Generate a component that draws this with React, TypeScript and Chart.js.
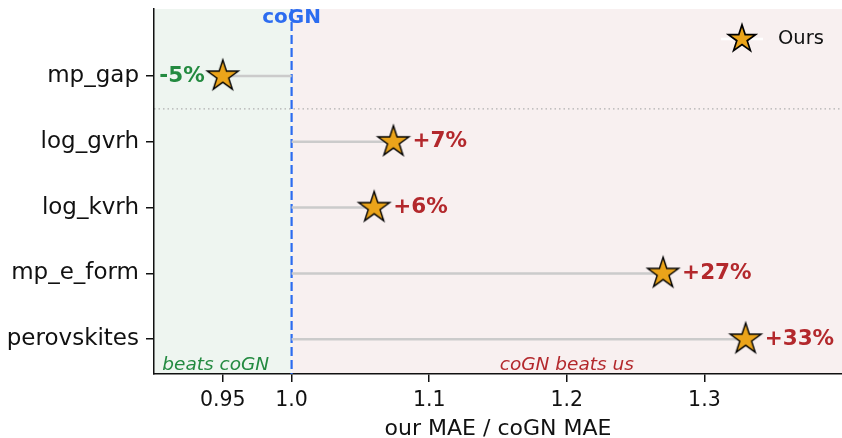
import React, { useEffect, useRef } from "react";
import { Chart, registerables } from "chart.js";
Chart.register(...registerables);

const categories = ["mp_gap", "log_gvrh", "log_kvrh", "mp_e_form", "perovskites"];
const ratios = [0.95, 1.074, 1.06, 1.27, 1.33];
const pctLabels = ["-5%", "+7%", "+6%", "+27%", "+33%"];
const xTicks = [0.95, 1.0, 1.1, 1.2, 1.3];
const xTickLabels = ["0.95", "1.0", "1.1", "1.2", "1.3"];
const baseline = 1.0;
const legendLabel = "Ours";
const xTitle = "our MAE / coGN MAE";
const refLabel = "coGN";
const winLabel = "beats coGN";
const loseLabel = "coGN beats us";

const FONT = "DejaVu Sans";
const STAR_FILL = "#EBA41A";
const GREEN = "#238a40";
const RED = "#b3282c";
const BLUE = "#2c6cf0";

function makeStar(R: number, lw: number): HTMLCanvasElement {
  const size = Math.ceil(2 * R + 2 * lw + 4);
  const c = document.createElement("canvas");
  c.width = size;
  c.height = size;
  const ctx = c.getContext("2d")!;
  const cx = size / 2;
  const cy = size / 2;
  ctx.beginPath();
  for (let k = 0; k < 10; k++) {
    const a = -Math.PI / 2 + (k * Math.PI) / 5;
    const r = k % 2 === 0 ? R : R * 0.382;
    const px = cx + r * Math.cos(a);
    const py = cy + r * Math.sin(a);
    if (k === 0) ctx.moveTo(px, py);
    else ctx.lineTo(px, py);
  }
  ctx.closePath();
  ctx.fillStyle = STAR_FILL;
  ctx.fill();
  ctx.lineWidth = lw;
  ctx.lineJoin = "miter";
  ctx.strokeStyle = "#000";
  ctx.stroke();
  return c;
}

function zeroPad(axis: any) {
  axis.paddingTop = 0;
  axis.paddingBottom = 0;
  axis.paddingLeft = 0;
  axis.paddingRight = 0;
}

export default function App() {
  const ref = useRef<HTMLCanvasElement>(null);

  useEffect(() => {
    document.body.style.margin = "0";
    const canvas = ref.current!;
    const star = makeStar(16.3, 1.4);
    const legendStar = makeStar(14.3, 1.7);

    const decor = {
      id: "decor",
      beforeDraw(chart: any) {
        const { ctx, chartArea: ca, scales } = chart;
        const xs = scales.x;
        const ys = scales.y;
        const xb = xs.getPixelForValue(baseline);
        ctx.save();
        ctx.fillStyle = "#eef5f0";
        ctx.fillRect(ca.left, ca.top, xb - ca.left, ca.bottom - ca.top);
        ctx.fillStyle = "#f8f0f0";
        ctx.fillRect(xb, ca.top, ca.right - xb, ca.bottom - ca.top);
        const ySep = ys.getPixelForValue(0.5);
        ctx.strokeStyle = "#b0b0b0";
        ctx.lineWidth = 1.2;
        ctx.setLineDash([1.5, 3]);
        ctx.beginPath();
        ctx.moveTo(ca.left, ySep);
        ctx.lineTo(ca.right, ySep);
        ctx.stroke();
        ctx.restore();
      },
      beforeDatasetsDraw(chart: any) {
        const { ctx, chartArea: ca, scales } = chart;
        const xb = scales.x.getPixelForValue(baseline);
        ctx.save();
        ctx.strokeStyle = BLUE;
        ctx.lineWidth = 2.2;
        ctx.setLineDash([9, 4]);
        ctx.beginPath();
        ctx.moveTo(xb, ca.top);
        ctx.lineTo(xb, ca.bottom);
        ctx.stroke();
        ctx.restore();
      },
      afterDraw(chart: any) {
        const { ctx, chartArea: ca, scales } = chart;
        const xs = scales.x;
        const ys = scales.y;
        ctx.save();
        ctx.font = `bold 21.5px "${FONT}"`;
        ctx.textBaseline = "middle";
        ratios.forEach((v, i) => {
          const px = xs.getPixelForValue(v);
          const py = ys.getPixelForValue(i);
          if (v < baseline) {
            ctx.fillStyle = GREEN;
            ctx.textAlign = "right";
            ctx.fillText(pctLabels[i], px - 18, py);
          } else {
            ctx.fillStyle = RED;
            ctx.textAlign = "left";
            ctx.fillText(pctLabels[i], px + 19, py);
          }
        });
        ctx.font = `bold 20px "${FONT}"`;
        ctx.fillStyle = BLUE;
        ctx.textAlign = "center";
        ctx.textBaseline = "middle";
        ctx.fillText(refLabel, xs.getPixelForValue(baseline), ca.top + 9);
        ctx.font = `italic 18.5px "${FONT}"`;
        ctx.textBaseline = "alphabetic";
        ctx.fillStyle = GREEN;
        ctx.textAlign = "left";
        ctx.fillText(winLabel, xs.getPixelForValue(0.906), ys.getPixelForValue(4.47));
        ctx.fillStyle = RED;
        ctx.textAlign = "center";
        ctx.fillText(loseLabel, xs.getPixelForValue(1.2), ys.getPixelForValue(4.47));
        const lx = ca.right - 100;
        const ly = ca.top + 30;
        ctx.strokeStyle = "#ffffff";
        ctx.lineWidth = 2.5;
        ctx.beginPath();
        ctx.moveTo(lx - 21, ly);
        ctx.lineTo(lx + 21, ly);
        ctx.stroke();
        ctx.drawImage(legendStar, lx - legendStar.width / 2, ly - legendStar.height / 2);
        ctx.font = `19.5px "${FONT}"`;
        ctx.fillStyle = "#111";
        ctx.textAlign = "left";
        ctx.textBaseline = "middle";
        ctx.fillText(legendLabel, lx + 36, ly);
        ctx.restore();
      },
    };

    const lineSets = categories.map((_, i) => ({
      type: "scatter" as const,
      data: [
        { x: baseline, y: i },
        { x: ratios[i], y: i },
      ],
      showLine: true,
      borderColor: "#cbcbcb",
      borderWidth: 2.5,
      pointRadius: 0,
      order: 2,
    }));

    const chart = new Chart(canvas, {
      type: "scatter",
      data: {
        datasets: [
          ...lineSets,
          {
            label: legendLabel,
            data: ratios.map((v, i) => ({ x: v, y: i })),
            pointStyle: star as any,
            pointRadius: 16,
            order: 0,
          } as any,
        ],
      },
      options: {
        animation: false,
        responsive: false,
        events: [],
        layout: { autoPadding: false, padding: { top: 9, right: 0, left: 0, bottom: 0 } },
        plugins: { legend: { display: false }, tooltip: { enabled: false } },
        scales: {
          x: {
            type: "linear",
            min: 0.9,
            max: 1.4,
            afterBuildTicks: (axis: any) => {
              axis.ticks = xTicks.map((v) => ({ value: v }));
            },
            afterFit: (axis: any) => {
              axis.height = 64;
              zeroPad(axis);
            },
            ticks: {
              autoSkip: false,
              maxRotation: 0,
              padding: 6,
              color: "#111",
              font: { family: FONT, size: 20.5 },
              callback: (_v: any, i: number) => xTickLabels[i],
            },
            grid: {
              display: true,
              drawOnChartArea: false,
              drawTicks: true,
              tickLength: 8,
              color: "#111",
              lineWidth: 1.5,
            },
            border: { display: true, color: "#111", width: 1.5 },
            title: {
              display: true,
              text: xTitle,
              color: "#111",
              font: { family: FONT, size: 22, lineHeight: 0.8 },
              padding: { top: 0, bottom: 0 },
            },
          },
          y: {
            type: "linear",
            reverse: true,
            min: -1.02,
            max: 4.53,
            afterBuildTicks: (axis: any) => {
              axis.ticks = categories.map((_, i) => ({ value: i }));
            },
            afterFit: (axis: any) => {
              axis.width = 154;
              zeroPad(axis);
            },
            ticks: {
              autoSkip: false,
              padding: 7,
              color: "#111",
              font: { family: FONT, size: 23 },
              callback: (v: any) => categories[Math.round(Number(v))] ?? "",
            },
            grid: {
              display: true,
              drawOnChartArea: false,
              drawTicks: true,
              tickLength: 8,
              color: "#111",
              lineWidth: 1.5,
            },
            border: { display: true, color: "#111", width: 1.5 },
          },
        },
      },
      plugins: [decor],
    } as any);

    return () => chart.destroy();
  }, []);

  return (
    <div style={{ position: "fixed", left: 0, top: 0, width: 842, height: 438, background: "#fff" }}>
      <canvas ref={ref} width={842} height={438} style={{ display: "block" }} />
    </div>
  );
}
